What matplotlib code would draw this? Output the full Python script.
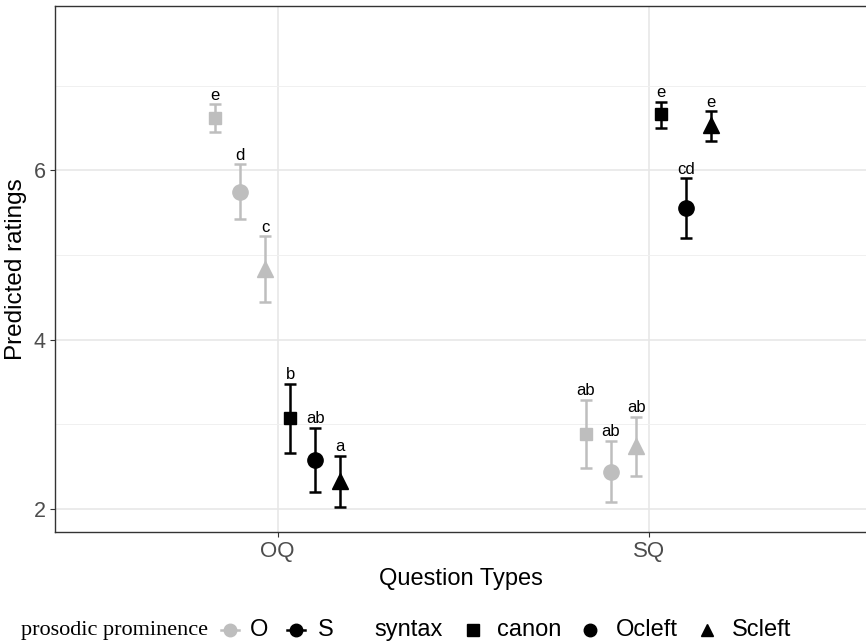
import matplotlib
matplotlib.use("Agg")
import matplotlib.pyplot as plt
from matplotlib.lines import Line2D
import numpy as np

plt.rcParams['font.family'] = ['Liberation Sans', 'DejaVu Sans']

# data
question_types = ['OQ', 'SQ']
prominence = ['O', 'S']
syntax = ['canon', 'Ocleft', 'Scleft']

# ratings[prominence][syntax] -> [OQ, SQ]
ratings = {
    'O': {'canon': [6.62, 2.89], 'Ocleft': [5.74, 2.44], 'Scleft': [4.84, 2.74]},
    'S': {'canon': [3.07, 6.66], 'Ocleft': [2.58, 5.56], 'Scleft': [2.33, 6.53]},
}
lower = {
    'O': {'canon': [6.45, 2.49], 'Ocleft': [5.42, 2.09], 'Scleft': [4.45, 2.39]},
    'S': {'canon': [2.66, 6.50], 'Ocleft': [2.20, 5.20], 'Scleft': [2.02, 6.35]},
}
upper = {
    'O': {'canon': [6.78, 3.29], 'Ocleft': [6.07, 2.81], 'Scleft': [5.22, 3.09]},
    'S': {'canon': [3.48, 6.81], 'Ocleft': [2.96, 5.91], 'Scleft': [2.63, 6.70]},
}
letters = {
    'O': {'canon': ['e', 'ab'], 'Ocleft': ['d', 'ab'], 'Scleft': ['c', 'ab']},
    'S': {'canon': ['b', 'e'], 'Ocleft': ['ab', 'cd'], 'Scleft': ['a', 'e']},
}

colours = {'O': '#bebebe', 'S': 'black'}
markers = {'canon': 's', 'Ocleft': 'o', 'Scleft': '^'}
msizes = {'canon': 9, 'Ocleft': 11, 'Scleft': 11.5}

fig = plt.figure(figsize=(8.66, 6.44), dpi=100)
W, H = 866, 644
ax = fig.add_axes([55 / W, 1 - 532 / H, (W - 55) / W, (532 - 6) / H])

x = np.arange(1, len(question_types) + 1)
step = 0.0675
k = 0
for p in prominence:
    for s in syntax:
        off = (k - 2.5) * step
        k += 1
        y = np.array(ratings[p][s])
        lo = np.array(lower[p][s])
        hi = np.array(upper[p][s])
        ax.errorbar(x + off, y, yerr=[y - lo, hi - y], fmt='none',
                    ecolor=colours[p], elinewidth=1.8, capsize=4.5,
                    capthick=1.8, zorder=3)
        ax.plot(x + off, y, linestyle='none', marker=markers[s],
                color=colours[p], markersize=msizes[s], zorder=4)
        for xi, hv, lab in zip(x + off, hi, letters[p][s]):
            ax.annotate(lab, (xi, hv), xytext=(0, 1), textcoords='offset points',
                        ha='center', va='bottom', fontsize=12, color='black')

ax.set_xlim(0.4, 2.586)
ax.set_ylim(1.73, 7.94)
ax.set_xticks(x)
ax.set_xticklabels(question_types)
ax.set_yticks([2, 4, 6])
ax.set_yticks([3, 5, 7], minor=True)
ax.grid(True, which='major', color='#e6e6e6', linewidth=1.1)
ax.grid(True, which='minor', axis='y', color='#f0f0f0', linewidth=0.7)
ax.set_axisbelow(True)
ax.tick_params(axis='both', which='major', labelsize=15.5, labelcolor='#4d4d4d',
               color='#333333', length=3.5, width=0.8, pad=3)
ax.tick_params(axis='x', which='major', labelsize=16)
ax.tick_params(axis='y', which='minor', length=0)
for side in ['left', 'bottom', 'top']:
    ax.spines[side].set_color('#333333')
    ax.spines[side].set_linewidth(1.0)
ax.spines['right'].set_visible(False)
ax.set_xlabel('Question Types', fontsize=17, labelpad=4)
ax.set_ylabel('Predicted ratings', fontsize=17.5, labelpad=5)

# legend along the bottom, built by hand
ly = 1 - 630 / H
fig.text(21 / W, ly, 'prosodic prominence', family='Liberation Serif',
         fontsize=16, va='center', ha='left')
key_items = [
    (230, 'o', colours['O'], True, 250, 'O'),
    (296, 'o', colours['S'], True, 318, 'S'),
    (473, 's', 'black', False, 497, 'canon'),
    (590, 'o', 'black', False, 616, 'Ocleft'),
    (707, '^', 'black', False, 732, 'Scleft'),
]
for kx, mk, col, line, tx, lab in key_items:
    if line:
        fig.add_artist(Line2D([(kx - 9) / W, (kx + 9) / W], [ly, ly],
                              color=col, linewidth=1.8, transform=fig.transFigure))
    fig.add_artist(Line2D([kx / W], [ly], marker=mk, color=col, linestyle='none',
                          markersize=9 if mk != 's' else 8, transform=fig.transFigure))
    fig.text(tx / W, ly, lab, fontsize=17, va='center', ha='left')
fig.text(374 / W, ly, 'syntax', fontsize=17, va='center', ha='left')

fig.savefig('out.png', dpi=100)
